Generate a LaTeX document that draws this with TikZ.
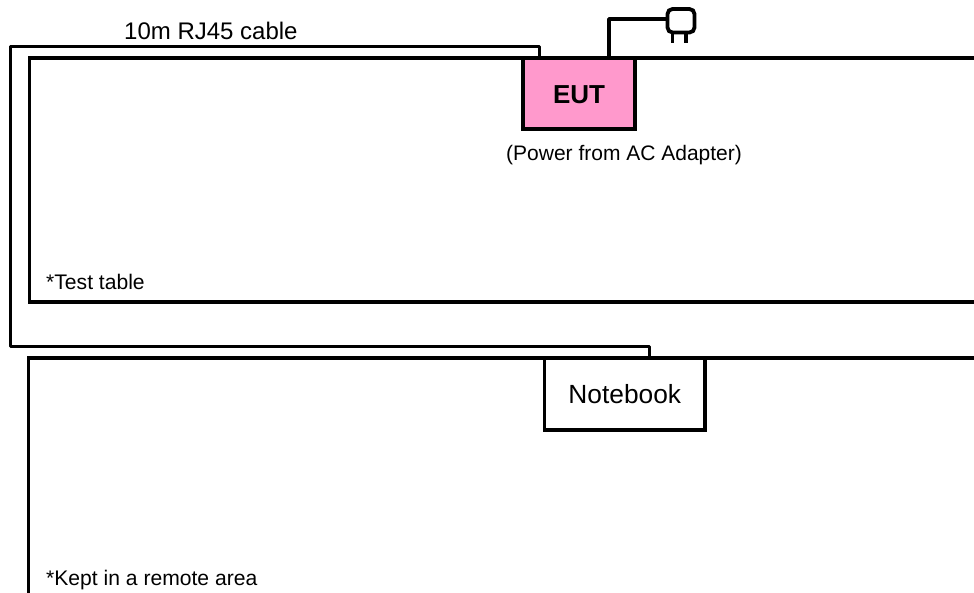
\documentclass[tikz,border=0pt]{standalone}
\usepackage{fontspec}
\setmainfont{Liberation Sans}
\usetikzlibrary{calc}
\definecolor{eutpink}{RGB}{255,153,204}
\tikzset{
  tableline/.style={line width=3.8pt,line cap=rect,line join=miter},
  cableline/.style={line width=3pt,line join=round},
  boxnode/.style={draw=black,anchor=north west,inner sep=0pt,outer sep=0pt,align=center},
  lbl/.style={inner sep=0pt,anchor=base west,text=black},
}
\begin{document}
\begin{tikzpicture}[x=1pt,y=-1pt]
\useasboundingbox (0,0) rectangle (974,592);
\clip (0,0) rectangle (974,592);
% tables
\coordinate (tableTL) at (29.5,58);
\coordinate (tableTR) at (980,58);
\coordinate (tableBL) at (29.5,302);
\coordinate (tableBR) at (980,302);
\coordinate (remoteTL) at (28.5,358);
\coordinate (remoteTR) at (980,358);
\coordinate (remoteBL) at (28.5,600);
% cable corners
\coordinate (cableUL) at (10.5,46);
\coordinate (cableLL) at (10.5,346);
% nodes
\node[boxnode,fill=eutpink,line width=3.8pt,minimum width=112pt,minimum height=71pt,text height=19pt,text depth=0pt,font=\bfseries\fontsize{26}{30}\selectfont] (eut) at (523,58) {EUT};
\node[boxnode,fill=white,line width=3.4pt,minimum width=160.5pt,minimum height=72pt,text height=19pt,text depth=0pt,font=\fontsize{26.3}{30}\selectfont] (nb) at (544.5,358) {Notebook};
\draw[tableline] (tableBR) -- (tableBL) -- (tableTL) -- (tableTR);
\draw[tableline] (remoteBL) -- (remoteTL) -- (remoteTR);
\draw[line width=3.8pt] (eut.north west) -- (eut.south west) -- (eut.south east) -- (eut.north east);
\draw[line width=3.4pt] (nb.north west) -- (nb.south west) -- (nb.south east) -- (nb.north east);
\draw[cableline] ([xshift=16.5pt]eut.north west) |- (cableUL) -- (cableLL) -| ([xshift=104.5pt]nb.north west);
\node[draw=black,line width=3.8pt,rounded corners=5pt,outer sep=0pt,minimum width=27pt,minimum height=23.5pt,inner sep=0pt,anchor=north west] (plug) at (667.5,9) {};
\draw[line width=3.6pt,line join=round] ([xshift=86pt,yshift=2pt]eut.north west) |- ([yshift=1.75pt]plug.west);
\draw[line width=3.6pt] ([xshift=-8.7pt]plug.south) -- ++(0,10.8);
\draw[line width=3.6pt] ([xshift=5pt]plug.south) -- ++(0,10.8);
% labels
\node[lbl,font=\fontsize{24}{28}\selectfont] (cablelabel) at (124,39.5) {10m RJ45 cable};
\node[lbl,font=\fontsize{21}{24}\selectfont] (powerlabel) at (506,160.5) {(Power from AC Adapter)};
\node[lbl,font=\fontsize{21.1}{24}\selectfont] (testlabel) at (46,289) {*Test table};
\node[lbl,font=\fontsize{21.1}{24}\selectfont] (remotelabel) at (46,585) {*Kept in a remote area};
\end{tikzpicture}
\end{document}
